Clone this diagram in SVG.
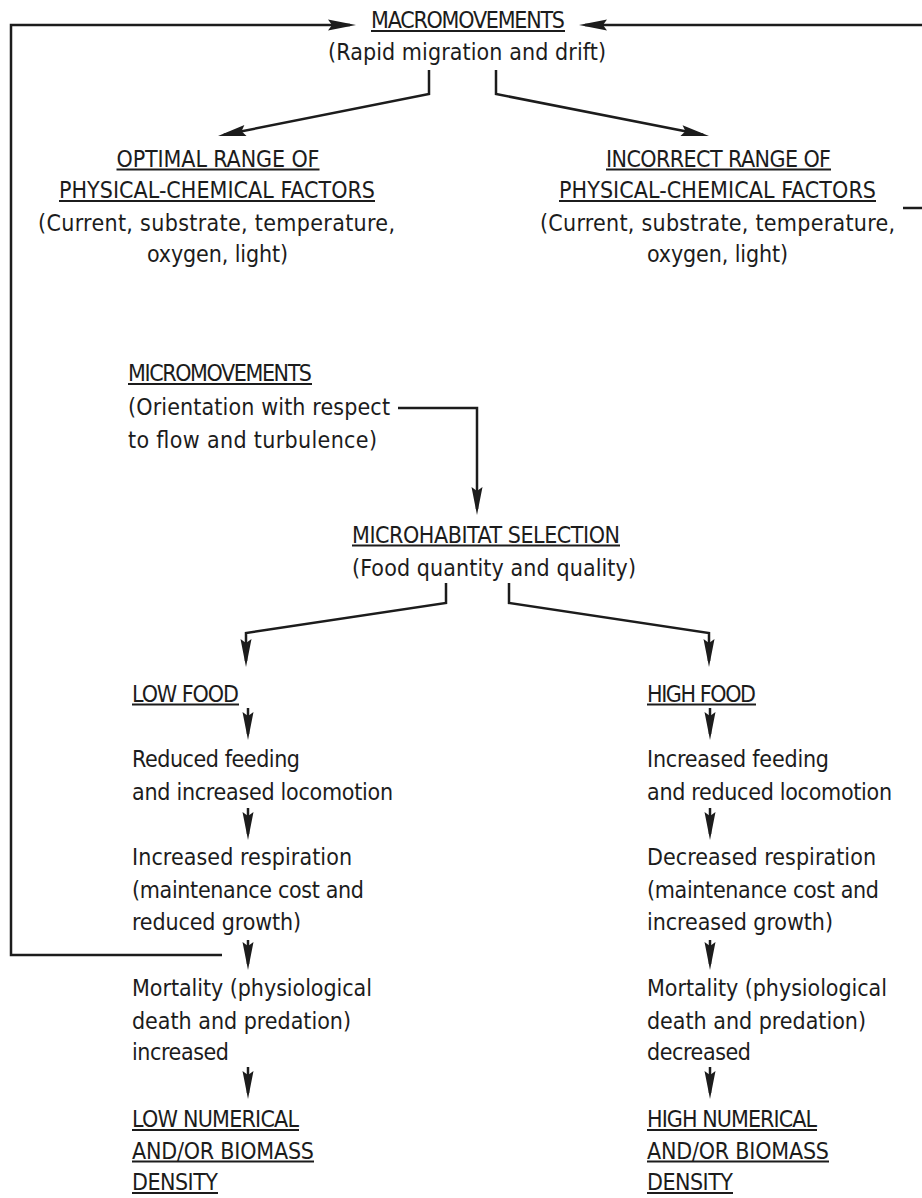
<svg xmlns="http://www.w3.org/2000/svg" width="922" height="1198" viewBox="0 0 922 1198">
<style>
.t{font-family:"Liberation Sans Narrow","DejaVu Sans Condensed","Liberation Sans",Arial,sans-serif;font-size:23px;fill:#1c1c1c}
.ul{stroke:#1c1c1c;stroke-width:2}
.c{fill:none;stroke:#1c1c1c;stroke-width:2.5}
</style>
<defs>
<marker id="ah" markerUnits="userSpaceOnUse" markerWidth="40" markerHeight="20" refX="0" refY="0" orient="auto" overflow="visible">
<path d="M6,0 L-22,-5.5 L-18,0 L-22,5.5 Z" fill="#1c1c1c"/>
</marker>
</defs>
<rect width="922" height="1198" fill="#fff"/>
<g id="connectors">
<path class="c" d="M222,955 H11 V25 H350" marker-end="url(#ah)"/>
<path class="c" d="M903,208 H926 V25 H585" marker-end="url(#ah)"/>
<path class="c" d="M429,70 V94 L223.9,134.8" marker-end="url(#ah)"/>
<path class="c" d="M496,70 V94 L703.1,134.8" marker-end="url(#ah)"/>
<path class="c" d="M398,408 H477 V509" marker-end="url(#ah)"/>
<path class="c" d="M446,583 V603 L246,633 V661" marker-end="url(#ah)"/>
<path class="c" d="M509,583 V603 L709,633 V661" marker-end="url(#ah)"/>
<path class="c" d="M248,708 V734" marker-end="url(#ah)"/>
<path class="c" d="M248,808 V834" marker-end="url(#ah)"/>
<path class="c" d="M248,940 V964" marker-end="url(#ah)"/>
<path class="c" d="M248,1067 V1093" marker-end="url(#ah)"/>
<path class="c" d="M710,708 V734" marker-end="url(#ah)"/>
<path class="c" d="M710,808 V834" marker-end="url(#ah)"/>
<path class="c" d="M710,940 V964" marker-end="url(#ah)"/>
<path class="c" d="M710,1067 V1093" marker-end="url(#ah)"/>
</g>
<g id="macromovements">
<text class="t" x="371" y="28" textLength="194" lengthAdjust="spacing">MACROMOVEMENTS</text>
<line class="ul" x1="371" y1="31" x2="565" y2="31"/>
<text class="t" x="328" y="60" textLength="278" lengthAdjust="spacing">(Rapid migration and drift)</text>
</g>
<g id="optimal-range">
<text class="t" x="116.5" y="166.5" textLength="203" lengthAdjust="spacing">OPTIMAL RANGE OF</text>
<line class="ul" x1="116.5" y1="169.5" x2="319.5" y2="169.5"/>
<text class="t" x="59" y="198" textLength="316" lengthAdjust="spacing">PHYSICAL-CHEMICAL FACTORS</text>
<line class="ul" x1="59" y1="201" x2="375" y2="201"/>
<text class="t" x="38" y="230.5" textLength="357" lengthAdjust="spacing">(Current, substrate, temperature,</text>
<text class="t" x="147" y="262" textLength="141" lengthAdjust="spacing">oxygen, light)</text>
</g>
<g id="incorrect-range">
<text class="t" x="606" y="166.5" textLength="225" lengthAdjust="spacing">INCORRECT RANGE OF</text>
<line class="ul" x1="606" y1="169.5" x2="831" y2="169.5"/>
<text class="t" x="559" y="198" textLength="317" lengthAdjust="spacing">PHYSICAL-CHEMICAL FACTORS</text>
<line class="ul" x1="559" y1="201" x2="876" y2="201"/>
<text class="t" x="540" y="230.5" textLength="355" lengthAdjust="spacing">(Current, substrate, temperature,</text>
<text class="t" x="647" y="262" textLength="141" lengthAdjust="spacing">oxygen, light)</text>
</g>
<g id="micromovements">
<text class="t" x="128" y="381" textLength="184" lengthAdjust="spacing">MICROMOVEMENTS</text>
<line class="ul" x1="128" y1="384" x2="312" y2="384"/>
<text class="t" x="128" y="415" textLength="262" lengthAdjust="spacing">(Orientation with respect</text>
<text class="t" x="128" y="448" textLength="249" lengthAdjust="spacing">to flow and turbulence)</text>
</g>
<g id="microhabitat-selection">
<text class="t" x="352" y="542.5" textLength="268" lengthAdjust="spacing">MICROHABITAT SELECTION</text>
<line class="ul" x1="352" y1="545.5" x2="620" y2="545.5"/>
<text class="t" x="352" y="576" textLength="284" lengthAdjust="spacing">(Food quantity and quality)</text>
</g>
<g id="low-food">
<text class="t" x="132" y="701.5" textLength="107" lengthAdjust="spacing">LOW FOOD</text>
<line class="ul" x1="132" y1="704.5" x2="239" y2="704.5"/>
</g>
<g id="low-feeding">
<text class="t" x="132" y="767" textLength="168" lengthAdjust="spacing">Reduced feeding</text>
<text class="t" x="132" y="799.5" textLength="261" lengthAdjust="spacing">and increased locomotion</text>
</g>
<g id="low-respiration">
<text class="t" x="132" y="865" textLength="220" lengthAdjust="spacing">Increased respiration</text>
<text class="t" x="132" y="898" textLength="232" lengthAdjust="spacing">(maintenance cost and</text>
<text class="t" x="132" y="930" textLength="169" lengthAdjust="spacing">reduced growth)</text>
</g>
<g id="low-mortality">
<text class="t" x="132" y="996" textLength="240" lengthAdjust="spacing">Mortality (physiological</text>
<text class="t" x="132" y="1028.5" textLength="219" lengthAdjust="spacing">death and predation)</text>
<text class="t" x="132" y="1060" textLength="97" lengthAdjust="spacing">increased</text>
</g>
<g id="low-density">
<text class="t" x="132" y="1127" textLength="167" lengthAdjust="spacing">LOW NUMERICAL</text>
<line class="ul" x1="132" y1="1130" x2="299" y2="1130"/>
<text class="t" x="132" y="1158.5" textLength="182" lengthAdjust="spacing">AND/OR BIOMASS</text>
<line class="ul" x1="132" y1="1161.5" x2="314" y2="1161.5"/>
<text class="t" x="132" y="1190" textLength="86" lengthAdjust="spacing">DENSITY</text>
<line class="ul" x1="132" y1="1193" x2="218" y2="1193"/>
</g>
<g id="high-food">
<text class="t" x="647" y="701.5" textLength="109" lengthAdjust="spacing">HIGH FOOD</text>
<line class="ul" x1="647" y1="704.5" x2="756" y2="704.5"/>
</g>
<g id="high-feeding">
<text class="t" x="647" y="767" textLength="182" lengthAdjust="spacing">Increased feeding</text>
<text class="t" x="647" y="799.5" textLength="245" lengthAdjust="spacing">and reduced locomotion</text>
</g>
<g id="high-respiration">
<text class="t" x="647" y="865" textLength="229" lengthAdjust="spacing">Decreased respiration</text>
<text class="t" x="647" y="898" textLength="232" lengthAdjust="spacing">(maintenance cost and</text>
<text class="t" x="647" y="930" textLength="186" lengthAdjust="spacing">increased growth)</text>
</g>
<g id="high-mortality">
<text class="t" x="647" y="996" textLength="240" lengthAdjust="spacing">Mortality (physiological</text>
<text class="t" x="647" y="1028.5" textLength="219" lengthAdjust="spacing">death and predation)</text>
<text class="t" x="647" y="1060" textLength="104" lengthAdjust="spacing">decreased</text>
</g>
<g id="high-density">
<text class="t" x="647" y="1127" textLength="170" lengthAdjust="spacing">HIGH NUMERICAL</text>
<line class="ul" x1="647" y1="1130" x2="817" y2="1130"/>
<text class="t" x="647" y="1158.5" textLength="182" lengthAdjust="spacing">AND/OR BIOMASS</text>
<line class="ul" x1="647" y1="1161.5" x2="829" y2="1161.5"/>
<text class="t" x="647" y="1190" textLength="86" lengthAdjust="spacing">DENSITY</text>
<line class="ul" x1="647" y1="1193" x2="733" y2="1193"/>
</g>
</svg>
